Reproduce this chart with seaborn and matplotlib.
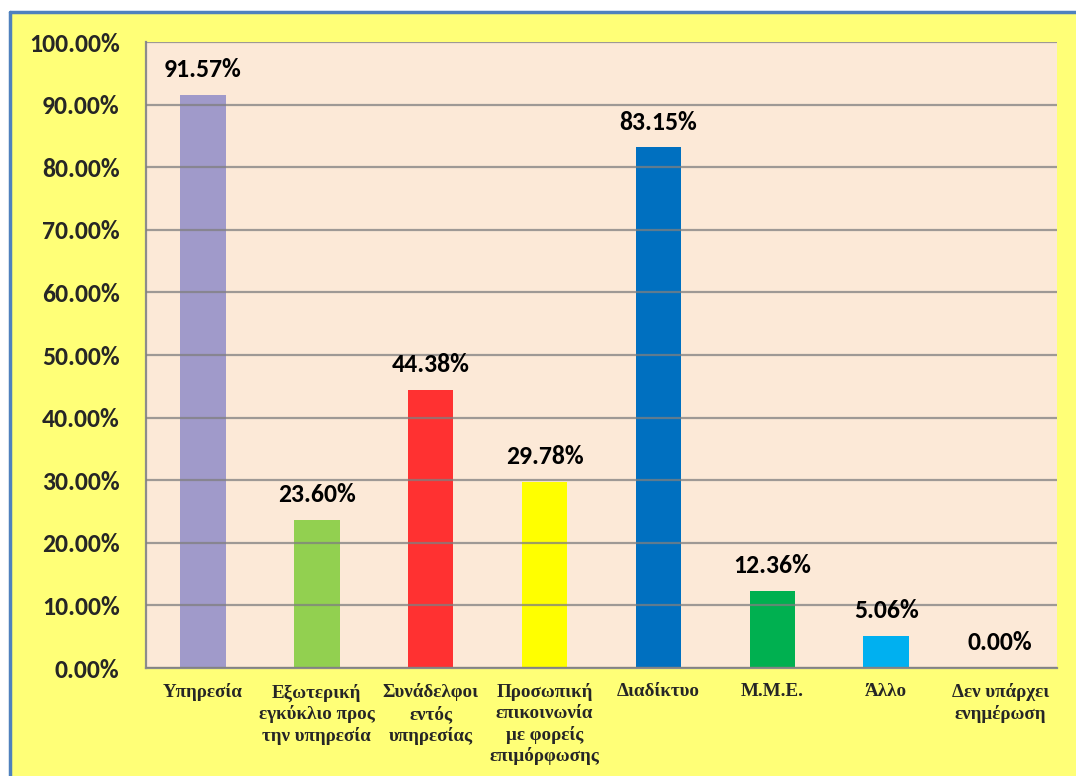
import matplotlib
matplotlib.use("Agg")
import matplotlib.pyplot as plt
from matplotlib.lines import Line2D
from matplotlib.patches import Rectangle
from matplotlib.ticker import FuncFormatter, MultipleLocator, FixedLocator
import seaborn as sns
import pandas as pd

categories = [
    "Υπηρεσία",
    "Εξωτερική\nεγκύκλιο προς\nτην υπηρεσία",
    "Συνάδελφοι\nεντός\nυπηρεσίας",
    "Προσωπική\nεπικοινωνία\nμε φορείς\nεπιμόρφωσης",
    "Διαδίκτυο",
    "Μ.Μ.Ε.",
    "Άλλο",
    "Δεν υπάρχει\nενημέρωση",
]
percentages = [91.57, 23.60, 44.38, 29.78, 83.15, 12.36, 5.06, 0.00]
bar_colors = ["#A09ACA", "#92D050", "#FF3131", "#FFFF00",
              "#0070C0", "#00B050", "#00B0F0", "#7F7F7F"]

df = pd.DataFrame({"category": categories, "value": percentages})

sns.set_theme(style="white")
plt.rcParams["font.family"] = ["Carlito", "Lato", "DejaVu Sans"]

fig = plt.figure(figsize=(10.76, 7.76), dpi=100)
fig.patch.set_facecolor("white")

# yellow chart area with a blue outline along its top and left edges
x0, y1 = 10 / 1076, 1 - 12 / 776
fig.patches.append(Rectangle((x0, 0), 1 - x0, y1, transform=fig.transFigure,
                             facecolor="#FFFF77", edgecolor="none", zorder=-10))
fig.lines.append(Line2D([x0, x0], [0, y1], transform=fig.transFigure,
                        color="#4F81BD", linewidth=2.5))
fig.lines.append(Line2D([x0, 1], [y1, y1], transform=fig.transFigure,
                        color="#4F81BD", linewidth=2.5))

ax = fig.add_axes([146 / 1076, 1 - 668 / 776, (1057 - 146) / 1076, (668 - 42) / 776])
ax.set_facecolor("#FCE9D7")

sns.barplot(data=df, x="category", y="value", hue="category",
            palette=bar_colors, width=0.4, legend=False, ax=ax,
            saturation=1, edgecolor="none")

ax.set_ylim(0, 100)
ax.set_xlim(-0.5, len(categories) - 0.5)
ax.yaxis.set_major_locator(MultipleLocator(10))
ax.yaxis.set_major_formatter(FuncFormatter(lambda v, p: f"{v:.2f}%"))

ax.set_axisbelow(False)
ax.grid(axis="y", color="#7F7F7F", linewidth=1.6, alpha=0.75)
ax.grid(axis="x", visible=False)

for side in ["top", "right"]:
    ax.spines[side].set_visible(False)
for side in ["left", "bottom"]:
    ax.spines[side].set_color("#8C8C8C")
    ax.spines[side].set_linewidth(1.6)

ax.set_xlabel("")
ax.set_ylabel("")

ax.tick_params(axis="y", which="major", direction="out", length=8, width=1.5,
               color="#8C8C8C", pad=11, labelsize=18.5)
for lbl in ax.get_yticklabels():
    lbl.set_fontweight("bold")

# category boundaries carry the tick marks; labels sit between them
ax.xaxis.set_minor_locator(FixedLocator([i - 0.5 for i in range(len(categories) + 1)]))
ax.tick_params(axis="x", which="minor", direction="out", length=6, width=1.5,
               color="#8C8C8C")
ax.tick_params(axis="x", which="major", length=0, pad=11)
ax.set_xticks(range(len(categories)))
ax.set_xticklabels(categories, fontfamily="Liberation Serif", fontweight="bold",
                   fontsize=13.7, linespacing=1.27, va="top", ha="center")

for i, v in enumerate(percentages):
    ax.annotate(f"{v:.2f}%", xy=(i, v), xytext=(0, 10), textcoords="offset points",
                ha="center", va="bottom", fontsize=18.5, fontweight="bold",
                color="black")

fig.savefig("out.png", dpi=100, facecolor=fig.get_facecolor())
